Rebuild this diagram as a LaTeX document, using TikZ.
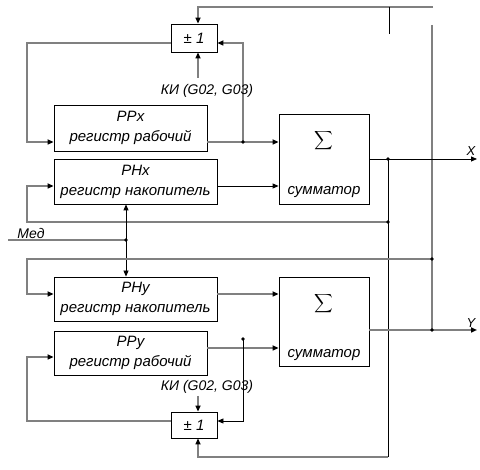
\documentclass[tikz,border=0pt]{standalone}
\usepackage{fontspec}
\usepackage{graphicx}
\setmainfont{Liberation Sans}
\usetikzlibrary{arrows.meta}
\definecolor{ln}{HTML}{808080}
\begin{document}
\begin{tikzpicture}[x=1pt,y=-1pt,
  box/.style={draw=black,line width=0.8pt,inner sep=0pt,align=center,font=\itshape\fontsize{15}{20}\selectfont},
  gl/.style={draw=ln,line width=1.6pt},
  bl/.style={draw=black,line width=0.8pt},
  arr/.style={-{Triangle[length=6pt,width=5pt,color=black]}},
  dot/.style={circle,fill=black,inner sep=0pt,minimum size=3.6pt},
  lbl/.style={font=\itshape\fontsize{14}{16}\selectfont,inner sep=0pt}]
\useasboundingbox (0,0) rectangle (480,470);

% boxes
\node[box,minimum width=46pt,minimum height=28pt] (pmU) at (194,38) {± 1};
\node[box,minimum width=153pt,minimum height=46pt] (RPx) at (130.5,128) {РРх\\регистр рабочий};
\node[box,minimum width=163pt,minimum height=45pt] (RNx) at (135.5,181.5) {РНх\\регистр накопитель};
\node[box,minimum width=90pt,minimum height=90pt] (SumU) at (324,159) {};
\node[box,minimum width=163pt,minimum height=44pt] (RNy) at (135.5,299) {РНу\\регистр накопитель};
\node[box,minimum width=90pt,minimum height=89pt] (SumL) at (324,321.5) {};
\node[box,minimum width=153pt,minimum height=44pt] (RPy) at (130.5,353) {РРу\\регистр рабочий};
\node[box,minimum width=46pt,minimum height=26pt] (pmL) at (194,425) {± 1};

\node[inner sep=0pt] (sgU) at (324,141) {\scalebox{1.3}{$\displaystyle\sum$}};
\node[box,draw=none] (smU) at (324,192) {сумматор};
\node[inner sep=0pt] (sgL) at (324,304) {\scalebox{1.3}{$\displaystyle\sum$}};
\node[box,draw=none] (smL) at (324,355) {сумматор};

% top
\coordinate (tR) at (433,7);
\coordinate (tL) at (198,7);
\draw[gl,arr] (tR) -- (tL) -- (pmU.north -| tL);
\coordinate (stA) at (389,7);
\coordinate (stB) at (389,34);
\draw[bl] (stA) -- (stB);
\coordinate (vT) at (432,25);
\coordinate (jY) at (432,330);
\coordinate (jH) at (432,259);
\draw[gl] (vT) -- (jY);

% upper +-1 loop
\coordinate (lU) at (27,43);
\coordinate (jA) at (243,142);
\draw[gl,arr] (pmU.west |- lU) -- (lU) -- (lU |- jA) -- (RPx.west |- jA);
\draw[gl,arr] (RPx.east |- jA) -- (SumU.west |- jA);
\draw[gl,arr] (jA) -- (jA |- lU) -- (pmU.east |- lU);
\node[lbl] (kiU) at (207,91) {КИ (G02, G03)};
\coordinate (kU) at (198,78);
\draw[gl,arr] (kU) -- (pmU.south -| kU);

% RNx output
\coordinate (rnx) at (217,186);
\draw[bl,arr] (RNx.east |- rnx) -- (SumU.west |- rnx);

% upper sum output
\coordinate (jX) at (388,159);
\coordinate (xE) at (477,159);
\draw[bl,arr] (SumU.east |- jX) -- (xE);
\node[lbl,font=\itshape\fontsize{13}{15}\selectfont] (X) at (471,151) {X};
\coordinate (jB) at (388,222);
\coordinate (bR) at (388,457);
\draw[bl] (jX) -- (bR);
\draw[gl,arr] (bR) -- (bR -| tL) -- (pmL.south -| tL);
\coordinate (lB) at (27,222);
\draw[gl,arr] (jB) -- (lB) -- (lB |- rnx) -- (RNx.west |- rnx);

% Med
\coordinate (mS) at (8,240);
\coordinate (jM) at (126,240);
\draw[gl] (mS) -- (jM);
\draw[bl,arr] (jM) -- (RNx.south -| jM);
\draw[bl,arr] (jM) -- (RNy.north -| jM);
\node[lbl] (med) at (31,233) {Мед};

% RNy input
\coordinate (lH) at (27,259);
\coordinate (rny) at (27,294);
\draw[gl,arr] (jH) -- (lH) -- (rny) -- (RNy.west |- rny);
\draw[gl,arr] (RNy.east |- rny) -- (SumL.west |- rny);

% lower sum output
\coordinate (yE) at (477,330);
\draw[gl,arr] (SumL.east |- jY) -- (yE);
\node[lbl,font=\itshape\fontsize{13}{15}\selectfont] (Y) at (471,323) {Y};

% RPy output
\coordinate (rpy) at (207,348);
\draw[gl,arr] (RPy.east |- rpy) -- (SumL.west |- rpy);
\coordinate (jC) at (243,339);
\coordinate (cL) at (243,421);
\draw[bl,arr] (jC) -- (cL) -- (pmL.east |- cL);

% lower +-1
\node[lbl] (kiL) at (207,387) {КИ (G02, G03)};
\coordinate (kL) at (198,396);
\draw[gl,arr] (kL) -- (pmL.north -| kL);
\coordinate (lL) at (27,421);
\coordinate (rpyIn) at (27,357);
\draw[gl,arr] (pmL.west |- lL) -- (lL) -- (rpyIn) -- (RPy.west |- rpyIn);

% dots
\foreach \p in {jA,jX,jB,jM,jH,jY,jC} \node[dot] at (\p) {};
\end{tikzpicture}
\end{document}
